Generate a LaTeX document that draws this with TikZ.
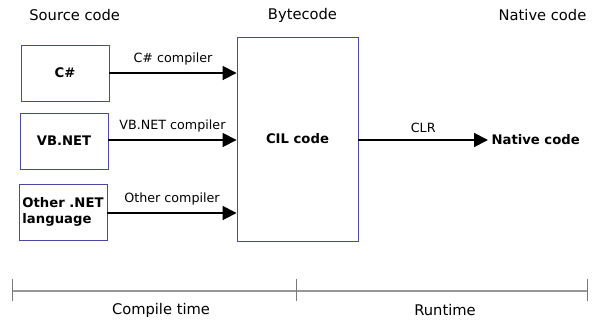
\documentclass[tikz,border=0pt]{standalone}
\usepackage{fontspec}
\setmainfont{DejaVu Sans}
\usetikzlibrary{arrows.meta,positioning}
\definecolor{boxblue}{RGB}{72,72,168}
\definecolor{linegray}{RGB}{150,150,150}

\begin{document}
\begin{tikzpicture}[x=1pt,y=-1pt,
                    every node/.style={font=\fontsize{14.7}{17}\selectfont},
                    srcbox/.style={draw=boxblue,line width=0.9pt,minimum width=88pt,
                                   minimum height=56pt,inner sep=2pt,
                                   font=\fontsize{13.2}{15.5}\selectfont\bfseries},
                    compile/.style={-{Triangle[length=14pt,width=14pt]},line width=1.8pt},
                    steplabel/.style={midway,above=3.5pt,font=\fontsize{12.7}{15}\selectfont}]
    \useasboundingbox (0,0) rectangle (596,322);
    % column headings
    \node (hsrc) at (74.7,15) {Source code};
    \node (hbyte) at (302.5,15) {Bytecode};
    \node (hnat) at (542.5,15) {Native code};
    % source languages
    \node[srcbox] (cs) at (65,73) {C\#};
    \node[srcbox] (vb) at (64,141) {VB.NET};
    \node[srcbox,align=left] (other) at (63,212) {Other .NET\\language};
    % bytecode
    \node[srcbox,minimum width=121pt,minimum height=204pt] (cil) at (297.5,139) {CIL code};
    \node[anchor=west,font=\fontsize{13.2}{15.5}\selectfont\bfseries] (native) at (488,140) {Native code};
    % compilers
    \draw[compile] (cs.east |- 0,73) -- (cil.west |- 0,73)
        node[steplabel] {C\# compiler};
    \draw[compile] (vb.east |- 0,140) -- (cil.west |- 0,140)
        node[steplabel] {VB.NET compiler};
    \draw[compile] (other.east |- 0,213) -- (cil.west |- 0,213)
        node[steplabel] {Other compiler};
    \draw[compile] (cil.east |- native.west) -- (native.west)
        node[steplabel] {CLR};
    % time line
    \coordinate (t0) at (12,291);
    \coordinate (t1) at (296,291);
    \coordinate (t2) at (587,291);
    \draw[linegray,line width=1.2pt] (t0) -- (t2);
    \foreach \t in {t0,t1,t2}
        \draw[linegray!80!black,line width=0.8pt] ([yshift=-10pt]\t) -- ([yshift=12pt]\t);
    \node (ctime) at (161,310) {Compile time};
    \node (rtime) at (445,310) {Runtime};
\end{tikzpicture}
\end{document}
